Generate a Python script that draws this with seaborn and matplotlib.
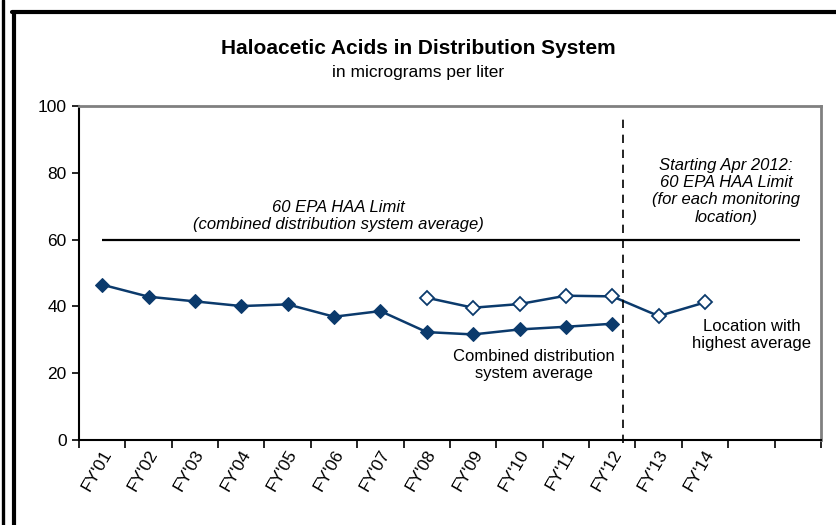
import matplotlib
import numpy as np
import pandas as pd
import seaborn as sns

matplotlib.use("Agg")
import matplotlib.pyplot as plt
from matplotlib.lines import Line2D

fiscal_years = ["FY'01", "FY'02", "FY'03", "FY'04", "FY'05", "FY'06", "FY'07",
                "FY'08", "FY'09", "FY'10", "FY'11", "FY'12", "FY'13", "FY'14", "", ""]
combined_avg = [46.5, 42.9, 41.5, 40.1, 40.6, 36.9, 38.6,
                32.3, 31.6, 33.1, 33.9, 34.8, np.nan, np.nan, np.nan, np.nan]
highest_avg = [np.nan, np.nan, np.nan, np.nan, np.nan, np.nan, np.nan,
               42.6, 39.6, 40.7, 43.2, 43.0, 37.1, 41.2, np.nan, np.nan]
haa_limit = 60
rule_change_pos = 11.23

NAVY = "#0b3a6c"


def configure_plot_style() -> None:
    sns.set_theme(style="white")
    plt.rcParams.update(
        {
            "font.family": ["Liberation Sans", "DejaVu Sans"],
            "axes.linewidth": 1.5,
            "text.color": "black",
            "xtick.color": "black",
            "ytick.color": "black",
            "xtick.labelcolor": "black",
            "ytick.labelcolor": "black",
        }
    )


def main() -> None:
    configure_plot_style()
    df = pd.DataFrame(
        {
            "pos": np.arange(len(fiscal_years)),
            "year": fiscal_years,
            "combined": combined_avg,
            "highest": highest_avg,
        }
    )

    fig = plt.figure(figsize=(8.36, 5.25), dpi=100)
    ax = fig.add_axes([0.0945, 0.162, 0.8875, 0.636])

    sns.lineplot(data=df, x="pos", y="combined", ax=ax, color=NAVY, lw=1.8,
                 marker="D", markersize=7.5, markerfacecolor=NAVY, markeredgecolor=NAVY)
    sns.lineplot(data=df, x="pos", y="highest", ax=ax, color=NAVY, lw=1.8,
                 marker="D", markersize=7.5, markerfacecolor="white",
                 markeredgecolor=NAVY, markeredgewidth=1.3)

    ax.hlines(haa_limit, 0, len(fiscal_years) - 0.95, color="black", lw=1.6)
    ax.axvline(rule_change_pos, ymin=-0.01, ymax=0.97, color="black", lw=1.2,
               ls=(0, (5, 4)), clip_on=False)

    ax.set_xlim(-0.5, len(fiscal_years) - 0.5)
    ax.set_ylim(0, 100)
    ax.set_yticks([0, 20, 40, 60, 80, 100])
    ax.set_xticks(np.arange(len(fiscal_years) + 1) - 0.5)
    ax.set_xticklabels([])
    # labels sit a touch right of the category centre, Excel style
    ax.set_xticks(df["pos"] + 0.12, minor=True)
    ax.set_xticklabels(fiscal_years, minor=True, rotation=60, ha="right", va="center",
                       rotation_mode="anchor", fontsize=12.5)
    ax.tick_params(axis="x", which="major", direction="out", length=6, width=1.2,
                   bottom=True)
    ax.tick_params(axis="x", which="minor", length=0, pad=8)
    ax.tick_params(axis="y", direction="out", length=5, width=1.2, left=True,
                   labelsize=12.5, pad=4)
    ax.set_xlabel("")
    ax.set_ylabel("")
    for side in ["left", "bottom"]:
        ax.spines[side].set_color("black")
    for side in ["top", "right"]:
        ax.spines[side].set_color("#808080")
        ax.spines[side].set_linewidth(2)

    ax.text(5.1, 67, "60 EPA HAA Limit\n(combined distribution system average)",
            ha="center", va="center", fontsize=12, style="italic", linespacing=1.2)
    ax.text(13.45, 74.5, "Starting Apr 2012:\n60 EPA HAA Limit\n(for each monitoring\nlocation)",
            ha="center", va="center", fontsize=12, style="italic", linespacing=1.2)
    ax.text(9.32, 22.5, "Combined distribution\nsystem average",
            ha="center", va="center", fontsize=12, linespacing=1.2)
    ax.text(14.0, 31.5, "Location with\nhighest average",
            ha="center", va="center", fontsize=12, linespacing=1.2)

    fig.text(0.5, 0.908, "Haloacetic Acids in Distribution System",
             ha="center", va="center", fontsize=15, fontweight="bold")
    fig.text(0.5, 0.862, "in micrograms per liter", ha="center", va="center", fontsize=12.5)

    # page frame
    fig.add_artist(Line2D([3 / 836, 3 / 836], [0, 1], color="black", lw=2.4,
                          transform=fig.transFigure))
    fig.add_artist(Line2D([13.5 / 836, 13.5 / 836], [0, 1 - 12 / 525], color="black", lw=3,
                          transform=fig.transFigure))
    fig.add_artist(Line2D([11.5 / 836, 1], [1 - 12 / 525, 1 - 12 / 525], color="black", lw=3,
                          transform=fig.transFigure))

    fig.savefig("out.png", dpi=100)
    plt.close(fig)


if __name__ == "__main__":
    main()
